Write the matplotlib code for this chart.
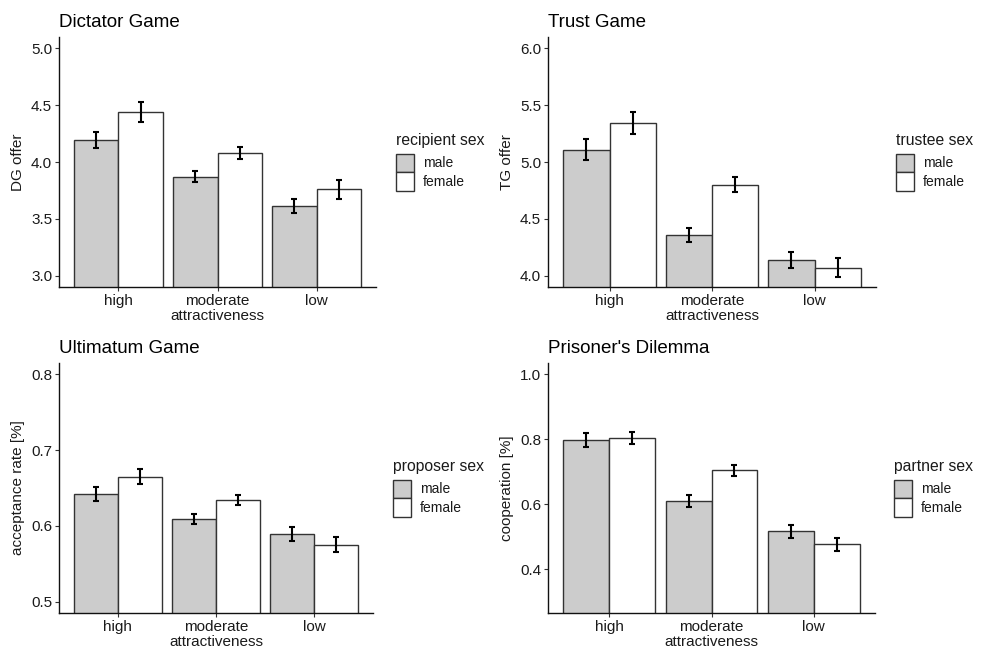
import numpy as np
import matplotlib
matplotlib.use("Agg")
import matplotlib.pyplot as plt
from matplotlib.patches import Patch

plt.rcParams['font.family'] = ['Liberation Sans', 'DejaVu Sans']

categories = ["high", "moderate", "low"]
sexes = ["male", "female"]

dg_male = [4.19, 3.87, 3.61]
dg_female = [4.44, 4.08, 3.76]
dg_male_err = [0.07, 0.047, 0.06]
dg_female_err = [0.085, 0.054, 0.083]

tg_male = [5.11, 4.36, 4.138]
tg_female = [5.345, 4.80, 4.068]
tg_male_err = [0.089, 0.063, 0.074]
tg_female_err = [0.096, 0.064, 0.083]

ug_male = [0.642, 0.609, 0.589]
ug_female = [0.665, 0.634, 0.575]
ug_male_err = [0.0088, 0.007, 0.009]
ug_female_err = [0.010, 0.0068, 0.010]

pd_male = [0.798, 0.610, 0.517]
pd_female = [0.805, 0.704, 0.477]
pd_male_err = [0.0205, 0.0174, 0.0205]
pd_female_err = [0.019, 0.0164, 0.0195]

W, H = 988, 653
fig = plt.figure(figsize=(W / 100, H / 100), dpi=100)

TXT = '#1a1a1a'


def panel(rect, title, ylabel, legtitle, male, female, male_err, female_err,
          ylim, yticks, leg_xy):
    l, t, r, b = rect
    ax = fig.add_axes([l / W, 1 - b / H, (r - l) / W, (b - t) / H])
    x = np.arange(len(categories))
    w = 0.45
    ax.bar(x - w / 2, male, w, color='#cccccc', edgecolor='#333333', linewidth=1.0, zorder=2)
    ax.bar(x + w / 2, female, w, color='white', edgecolor='#333333', linewidth=1.0, zorder=2)
    ax.errorbar(x - w / 2, male, yerr=male_err, fmt='none', ecolor='black',
                elinewidth=1.5, capsize=2.0, capthick=1.5, zorder=3)
    ax.errorbar(x + w / 2, female, yerr=female_err, fmt='none', ecolor='black',
                elinewidth=1.5, capsize=2.0, capthick=1.5, zorder=3)
    lo, hi = ylim
    pad = (hi - lo) * 0.05
    ax.set_ylim(lo - pad, hi + pad)
    ax.set_xlim(-0.6, 2.6)
    ax.set_yticks(yticks)
    ax.set_yticklabels(["%.1f" % v for v in yticks])
    ax.set_xticks(x)
    ax.set_xticklabels(categories)
    for s in ['top', 'right']:
        ax.spines[s].set_visible(False)
    for s in ['left', 'bottom']:
        ax.spines[s].set_linewidth(1.0)
        ax.spines[s].set_color('#111111')
    ax.tick_params(length=2.75, width=0.8, color='#333333', labelsize=11,
                   labelcolor=TXT, pad=2.2)
    ax.set_xlabel("attractiveness", fontsize=11, color=TXT, labelpad=1)
    ax.set_ylabel(ylabel, fontsize=11, color=TXT, labelpad=4)
    ax.set_title(title, loc='left', fontsize=13.5, color='black', pad=7)
    handles = [Patch(facecolor='#cccccc', edgecolor='#333333', linewidth=1.0),
               Patch(facecolor='white', edgecolor='#333333', linewidth=1.0)]
    leg = ax.legend(handles, sexes, title=legtitle, loc='upper left',
                    bbox_to_anchor=(leg_xy[0] / W, 1 - leg_xy[1] / H),
                    bbox_transform=fig.transFigure, frameon=False,
                    fontsize=10, title_fontsize=11.3, handlelength=1.32,
                    handleheight=1.7, labelspacing=0.0, handletextpad=0.6,
                    borderpad=0, borderaxespad=0, alignment='left')
    leg._legend_box.sep = 4
    for txt in leg.get_texts():
        txt.set_color(TXT)
    leg.get_title().set_color(TXT)
    return ax


panel((59, 37, 376, 287), "Dictator Game", "DG offer", "recipient sex",
      dg_male, dg_female, dg_male_err, dg_female_err,
      (3.0, 5.0), [3.0, 3.5, 4.0, 4.5, 5.0], (396, 133))
panel((548, 37, 876, 287), "Trust Game", "TG offer", "trustee sex",
      tg_male, tg_female, tg_male_err, tg_female_err,
      (4.0, 6.0), [4.0, 4.5, 5.0, 5.5, 6.0], (896, 133))
panel((59, 363, 373, 613), "Ultimatum Game", "acceptance rate [%]", "proposer sex",
      ug_male, ug_female, ug_male_err, ug_female_err,
      (0.5, 0.8), [0.5, 0.6, 0.7, 0.8], (393, 459))
panel((548, 363, 875, 613), "Prisoner's Dilemma", "cooperation [%]", "partner sex",
      pd_male, pd_female, pd_male_err, pd_female_err,
      (0.3, 1.0), [0.4, 0.6, 0.8, 1.0], (894, 459))

fig.savefig("out.png", dpi=100)
